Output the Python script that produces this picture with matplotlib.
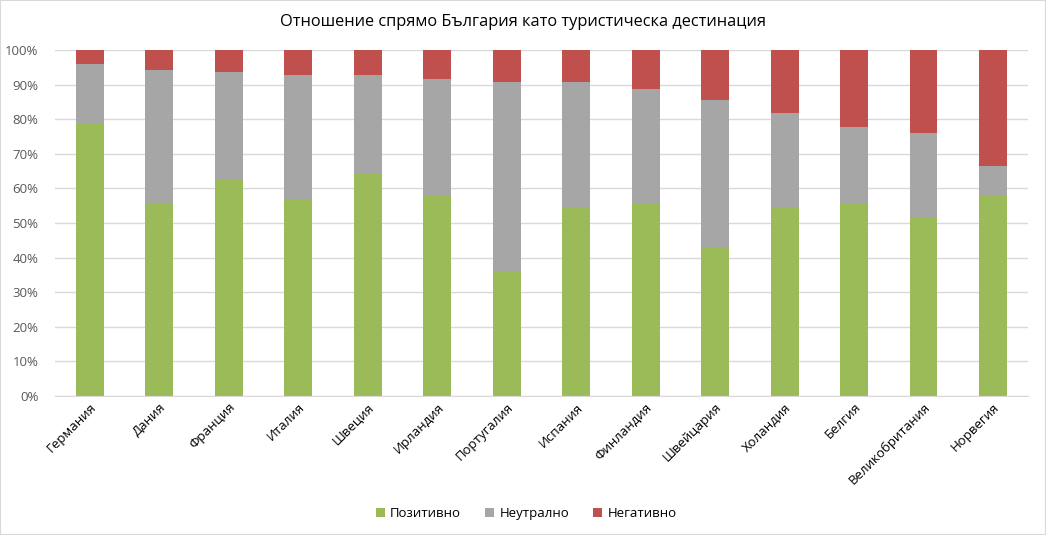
import numpy as np
import matplotlib.pyplot as plt
from matplotlib.ticker import PercentFormatter
from matplotlib.patches import Rectangle

plt.rcParams['font.family'] = ['Open Sans', 'DejaVu Sans']

countries = ['Германия', 'Дания', 'Франция', 'Италия', 'Швеция', 'Ирландия', 'Португалия',
             'Испания', 'Финландия', 'Швейцария', 'Холандия', 'Белгия', 'Великобритания', 'Норвегия']
positive = [79.0, 55.6, 62.4, 56.8, 64.2, 58.1, 36.1, 54.4, 55.6, 42.9, 54.4, 55.6, 51.7, 58.1]
neutral = [17.0, 38.6, 31.2, 36.0, 28.6, 33.5, 54.7, 36.4, 33.1, 42.6, 27.4, 22.1, 24.3, 8.4]
negative = [4.0, 5.8, 6.4, 7.2, 7.2, 8.4, 9.2, 9.2, 11.3, 14.5, 18.2, 22.3, 24.0, 33.5]

series = ['Позитивно', 'Неутрално', 'Негативно']
colors = ['#9bbb59', '#a6a6a6', '#c0504d']

fig = plt.figure(figsize=(10.46, 5.35), dpi=100)
ax = fig.add_axes([0.0526, 0.26, 0.930, 0.6465])

x = np.arange(len(countries))
bottom = np.zeros(len(countries))
for name, vals, c in zip(series, [positive, neutral, negative], colors):
    ax.bar(x, vals, 0.4, bottom=bottom, color=c, label=name, zorder=2)
    bottom += np.array(vals)

ax.set_xlim(-0.5, len(countries) - 0.5)
ax.set_ylim(0, 100)
ax.set_yticks(np.arange(0, 101, 10))
ax.yaxis.set_major_formatter(PercentFormatter(decimals=0))
ax.grid(axis='y', color='#d9d9d9', lw=1, zorder=0)
for s in ['top', 'right', 'left']:
    ax.spines[s].set_visible(False)
ax.spines['bottom'].set_color('#d9d9d9')
ax.tick_params(axis='both', length=0, colors='#595959', labelsize=9.5)
ax.tick_params(axis='y', pad=12)
ax.set_xticks(x)
ax.set_xticklabels(countries, rotation=45, ha='right', rotation_mode='anchor')
for lab in ax.get_xticklabels():
    lab.set_color('#000000')

fig.text(0.5, 0.958, 'Отношение спрямо България като туристическа дестинация',
         ha='center', va='center', fontsize=11.8, color='#000000')

fig.legend(loc='center', bbox_to_anchor=(0.503, 0.04), ncol=3, frameon=False,
           fontsize=9.5, handlelength=0.7, handleheight=0.7, columnspacing=1.8,
           handletextpad=0.4)

fig.patches.append(Rectangle((0, 0), 1, 1, transform=fig.transFigure, fill=False,
                             edgecolor='#d9d9d9', lw=1.5))

fig.savefig('out.png', dpi=100)
